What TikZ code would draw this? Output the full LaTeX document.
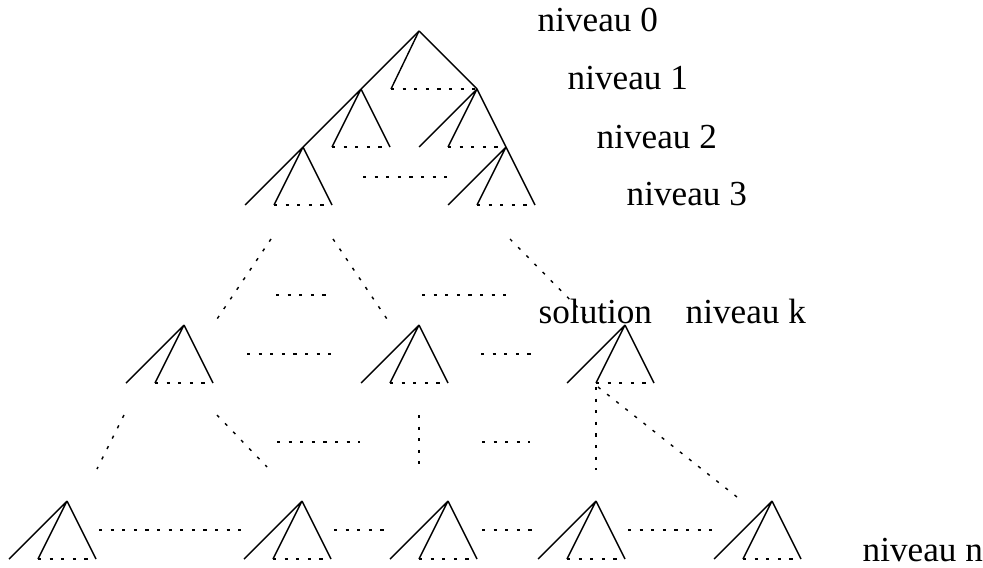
\documentclass[tikz,border=0pt]{standalone}
\usepackage{fontspec}
\setmainfont{Liberation Serif}
\usetikzlibrary{positioning}

\begin{document}
\begin{tikzpicture}[
  x=0.01cm, y=-0.01cm,
  line width=0.4pt,
  every node/.style={font=\fontsize{10}{12}\selectfont, inner sep=0pt, anchor=base west},
  pointille/.style={dash pattern=on 0.9pt off 2.4pt},
  pics/sousarbre/.style={code={
    \draw (0,0) -- (-58,58) (0,0) -- (-29,58) (0,0) -- (29,58);
    \draw[pointille] (-29,58) -- (29,58);
  }}
]
  \useasboundingbox (0,0) rectangle (983,567);

  %% Niveaux 0 a 3
  \coordinate (racine) at (419,31);
  \coordinate (n1g) at (361,89);
  \coordinate (n1d) at (477,89);
  \coordinate (n1m) at (391,89);
  \coordinate (n2g) at (303,147);
  \coordinate (n2d) at (506,147);

  \draw (racine) -- (n1g);
  \draw (racine) -- (n1m);
  \draw (racine) -- (n1d);
  \draw[pointille] (n1m) -- (n1d);

  \pic (t1g) at (n1g) {sousarbre};
  \pic (t1d) at (n1d) {sousarbre};
  \pic (t2g) at (n2g) {sousarbre};
  \pic (t2d) at (n2d) {sousarbre};
  \draw[pointille] (363,177) -- (448,177);

  \node (niv0) at (537,32)  {niveau 0};
  \node (niv1) at (567,90)  {niveau 1};
  \node (niv2) at (596,148) {niveau 2};
  \node (niv3) at (626,205) {niveau 3};

  %% Niveau k
  \coordinate (k1) at (184,325);
  \coordinate (k2) at (419,325);
  \coordinate (sol) at (625,325);
  \pic (tk1) at (k1) {sousarbre};
  \pic (tk2) at (k2) {sousarbre};
  \pic (tsol) at (sol) {sousarbre};

  \draw[pointille] (271,239) -- (217,319);
  \draw[pointille] (333,239) -- (387,319);
  \draw[pointille] (510,239) -- (587,317);
  \draw[pointille] (276,295) -- (326,295);
  \draw[pointille] (422,295) -- (507,295);
  \draw[pointille] (247,354) -- (332,354);
  \draw[pointille] (481,354) -- (533,354);

  \node (solution) at (538,323) {solution};
  \node (nivk)     at (685,323) {niveau k};

  %% Entre k et n
  \draw[pointille] (124,415) -- (97,469);
  \draw[pointille] (217,415) -- (267,467);
  \draw[pointille] (419,415) -- (419,464);
  \draw[pointille] (596,387) -- (596,470);
  \draw[pointille] (598,387) -- (737,497);
  \draw[pointille] (277,442) -- (360,442);
  \draw[pointille] (482,442) -- (530,442);

  %% Niveau n
  \foreach \x/\nom in {67/f1, 302/f2, 448/f3, 596/f4, 772/f5}
    \pic (\nom) at (\x,501) {sousarbre};

  \draw[pointille] (99,530) -- (243,530);
  \draw[pointille] (334,530) -- (385,530);
  \draw[pointille] (482,530) -- (532,530);
  \draw[pointille] (628,530) -- (713,530);

  \node (nivn) at (862,561) {niveau n};
\end{tikzpicture}
\end{document}
